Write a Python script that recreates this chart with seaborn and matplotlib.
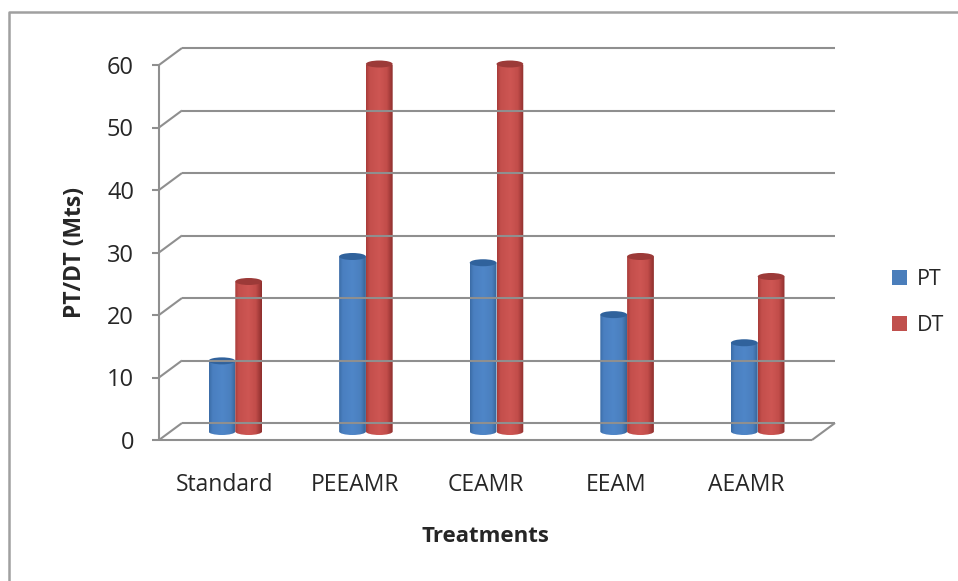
import numpy as np
import pandas as pd
import matplotlib
matplotlib.use("Agg")
import matplotlib.pyplot as plt
import seaborn as sns
from matplotlib.colors import LinearSegmentedColormap
from matplotlib.lines import Line2D
from matplotlib.patches import Ellipse, Patch, PathPatch
from matplotlib.path import Path
from matplotlib.transforms import Affine2D, IdentityTransform

treatments = ["Standard", "PEEAMR", "CEAMR", "EEAM", "AEAMR"]
pt_values = [11.3, 28.0, 27.0, 18.7, 14.2]
dt_values = [24.0, 58.8, 58.8, 28.0, 24.8]
series_names = ["PT", "DT"]
y_ticks = [0, 10, 20, 30, 40, 50, 60]
main_colors = {"PT": "#4a7ebb", "DT": "#c0504d"}
cap_colors = {"PT": "#30629c", "DT": "#9c3a38"}
ramps = {
    "PT": [(0, "#3b6ca6"), (0.13, "#4a7fc0"), (0.5, "#4f86c8"), (0.82, "#4a7fbe"), (1, "#386496")],
    "DT": [(0, "#a83c3a"), (0.13, "#c44f4c"), (0.5, "#ce5653"), (0.78, "#c24d4a"), (1, "#8e2f2d")],
}
GRID = "#8f8f8f"
TEXT = "#262626"

W, H = 958, 581
sns.set_theme(style="white")
plt.rcParams["font.family"] = ["Open Sans", "DejaVu Sans"]
fig = plt.figure(figsize=(W / 100, H / 100), dpi=100, facecolor="white")
ax = fig.add_axes([159 / W, (H - 440) / H, 653 / W, 375 / H])
ax.set_facecolor("none")

df = pd.DataFrame({
    "Treatment": treatments * 2,
    "Series": ["PT"] * 5 + ["DT"] * 5,
    "Value": pt_values + dt_values,
})
sns.barplot(data=df, x="Treatment", y="Value", hue="Series", hue_order=series_names,
            palette=main_colors, saturation=1, width=0.41, gap=0, legend=False, ax=ax, zorder=3)
ax.set_xlim(-0.5, 4.5)
ax.set_ylim(0, 60)
ax.set_yticks(y_ticks)
for s in ax.spines.values():
    s.set_visible(False)

ID = IdentityTransform()
DX_BACK, DY_BACK = 23, 17      # depth of the 3-D box, in pixels
DX_BAR, DY_BAR = 11, 8.5       # plane of the cylinders, in pixels
fig.canvas.draw()
to_px = ax.transData.transform

def gline(xs, ys, **kw):
    fig.add_artist(Line2D(xs, ys, transform=ID, color=GRID, lw=1.5,
                          solid_capstyle="butt", **kw))

x_left, x_right = -0.5, 4.5
for t in y_ticks:
    p0 = to_px((x_left, t))
    p1 = to_px((x_right, t))
    gline([p0[0] + DX_BACK, p1[0] + DX_BACK], [p0[1] + DY_BACK] * 2)
    gline([p0[0], p0[0] + DX_BACK], [p0[1], p0[1] + DY_BACK])
    gline([p0[0] - 7, p0[0]], [p0[1], p0[1]])
p_bl = to_px((x_left, 0))
p_tl = to_px((x_left, 60))
p_br = to_px((x_right, 0))
gline([p_bl[0], p_tl[0]], [p_bl[1], p_tl[1]])
gline([p_bl[0], p_br[0]], [p_bl[1], p_br[1]])
gline([p_br[0], p_br[0] + DX_BACK], [p_br[1], p_br[1] + DY_BACK])

# Turn each seaborn bar into a shaded cylinder, keeping its own data-scaled size.
shift = ax.transData + Affine2D().translate(DX_BAR, DY_BAR)
CAP = 3.5
cap_data = CAP * 60 / 375
bars = sorted(ax.patches, key=lambda b: b.get_x())
names = [series_names[i % 2] for i in range(len(bars))]
for bar, name in zip(bars, names):
    x0, x1 = bar.get_x(), bar.get_x() + bar.get_width()
    top = bar.get_height()
    bar.set_visible(False)
    (px0, py0), (px1, py1) = to_px((x0, 0)) + (DX_BAR, DY_BAR), to_px((x1, top)) + (DX_BAR, DY_BAR)
    k = 0.5523
    xm = (px0 + px1) / 2
    rx = (px1 - px0) / 2
    verts = [(px0, py1), (px0, py0),
             (px0, py0 - k * CAP), (xm - k * rx, py0 - CAP), (xm, py0 - CAP),
             (xm + k * rx, py0 - CAP), (px1, py0 - k * CAP), (px1, py0),
             (px1, py1), (px0, py1)]
    codes = [Path.MOVETO, Path.LINETO, Path.CURVE4, Path.CURVE4, Path.CURVE4,
             Path.CURVE4, Path.CURVE4, Path.CURVE4, Path.LINETO, Path.CLOSEPOLY]
    clip = PathPatch(Path(verts, codes), transform=ID, fc="none", ec="none")
    fig.add_artist(clip)
    cmap = LinearSegmentedColormap.from_list(name, ramps[name])
    grad = np.linspace(0, 1, 64).reshape(1, -1)
    im = ax.imshow(grad, cmap=cmap, aspect="auto", zorder=4,
                   extent=[x0, x1, -cap_data, top], transform=shift, interpolation="bilinear")
    im.set_clip_path(clip)
    ax.add_patch(Ellipse((xm, py1), px1 - px0, 2 * CAP, transform=ID, fc=cap_colors[name],
                         ec="none", zorder=5, clip_on=False))
ax.set_xlim(-0.5, 4.5)
ax.set_ylim(0, 60)
ax.set_aspect("auto")

ax.tick_params(axis="y", length=0, pad=18, labelsize=17, labelcolor=TEXT)
ax.tick_params(axis="x", length=0, pad=24, labelsize=16.5, labelcolor=TEXT)
ax.set_xlabel("Treatments", fontsize=16, fontweight="bold", color=TEXT, labelpad=21)
ax.set_ylabel("PT/DT (Mts)", fontsize=16.5, fontweight="bold", color=TEXT, labelpad=14)

handles = [Patch(facecolor=main_colors[n], edgecolor="none", label=n) for n in series_names]
fig.legend(handles=handles, loc="center left", bbox_to_anchor=(875 / W, (H - 302.5) / H),
           frameon=False, fontsize=15.5, handlelength=0.7, handleheight=0.7,
           handletextpad=0.45, labelspacing=1.2, labelcolor=TEXT, borderpad=0.3)

FRAME = "#a0a0a0"
fig.add_artist(Line2D([9, 9, W], [0, H - 12, H - 12], transform=ID, color=FRAME, lw=1.8))
fig.savefig("out.png", dpi=100, facecolor="white")
